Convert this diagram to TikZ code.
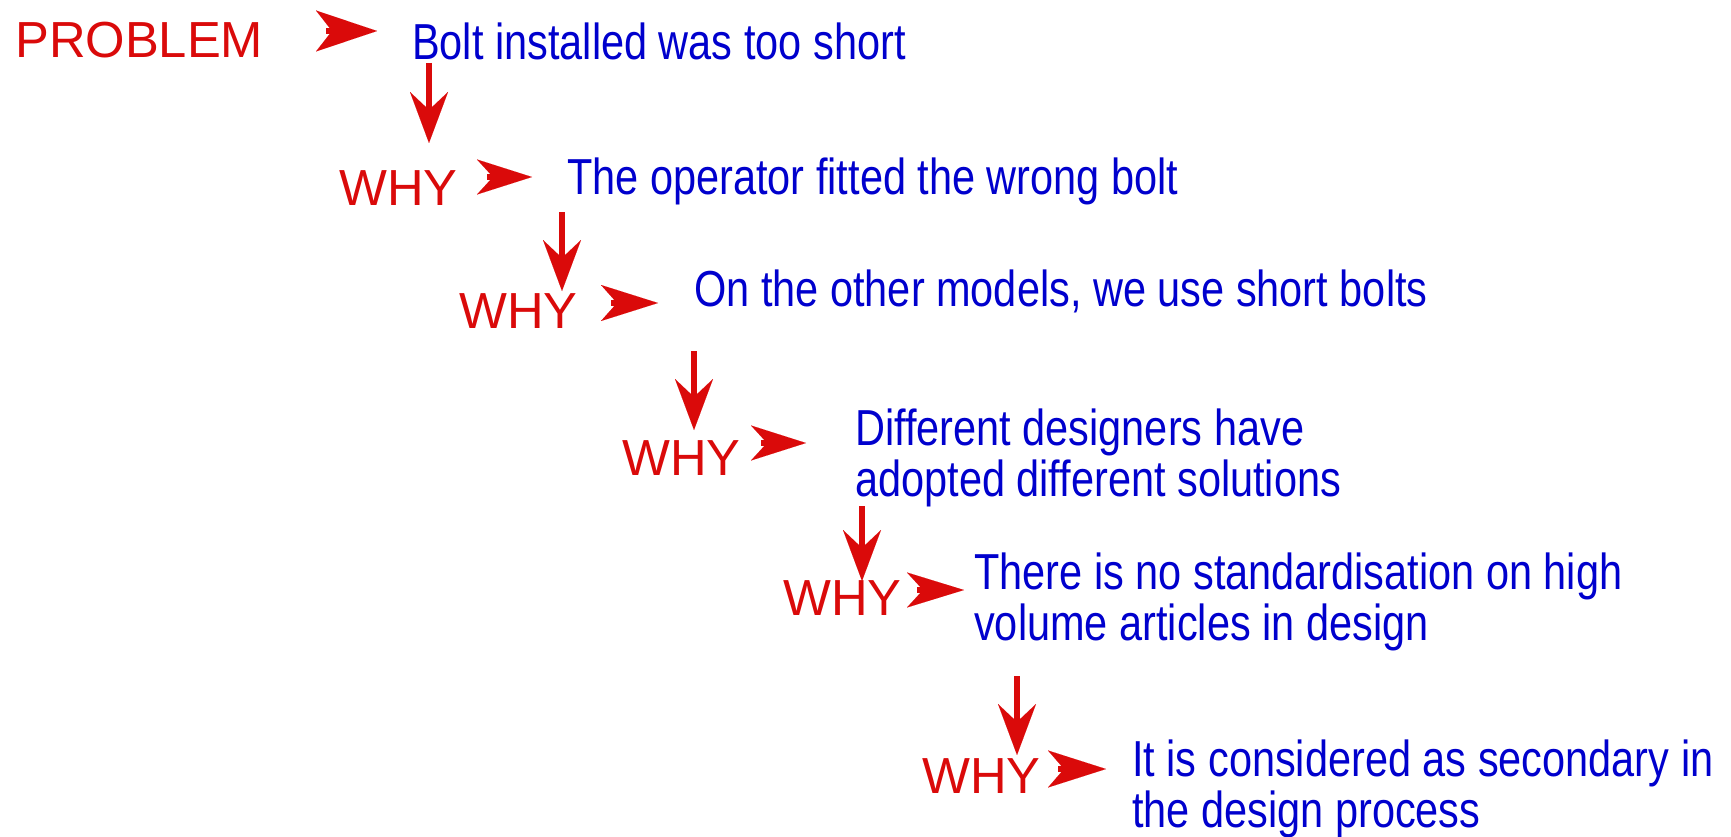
\documentclass[tikz,border=0pt]{standalone}
\usepackage{fontspec}
\setmainfont{Liberation Sans}
\newfontfamily\narrowfont{Liberation Sans}[FakeStretch=0.82]
\usetikzlibrary{arrows.meta}
\definecolor{myred}{RGB}{218,10,10}
\definecolor{myblue}{RGB}{0,0,205}
\begin{document}
\begin{tikzpicture}[x=1pt,y=-1pt,
  lbl/.style={anchor=base west, inner sep=0pt, text=myred,
    font=\fontsize{50.7}{51}\selectfont},
  txt/.style={anchor=base west, inner sep=0pt, text=myblue,
    font=\narrowfont\fontsize{50.6}{51}\selectfont},
  rarrow/.style 2 args={draw=myred, line width=6pt,
    -{Stealth[length=#1pt, width=#2pt, inset=16pt, line width=0.01pt]}},
  darrow/.style={draw=myred, line width=6pt,
    -{Stealth[length=51pt, width=38pt, inset=18pt, line width=0.01pt]}}]
\useasboundingbox (0,0) rectangle (1731,837);

% labels
\node[lbl] (prob) at (15,58) {PROBLEM};
\node[lbl] (why1) at (339,205) {WHY};
\node[lbl] (why2) at (459,328) {WHY};
\node[lbl] (why3) at (622,475) {WHY};
\node[lbl] (why4) at (783,615) {WHY};
\node[lbl] (why5) at (922,793) {WHY};

% texts
\node[txt] (t1) at (412,60) {Bolt installed was too short};
\node[txt] (t2) at (567,195) {The operator fitted the wrong bolt};
\node[txt] (t3) at (694,306) {On the other models, we use short bolts};
\node[txt] (t4) at (855,445) {\begin{tabular}[t]{@{}l@{}}Different designers have\\adopted different solutions\end{tabular}};
\node[txt] (t5) at (974,589) {\begin{tabular}[t]{@{}l@{}}There is no standardisation on high\\volume articles in design\end{tabular}};
\node[txt] (t6) at (1132,776) {\begin{tabular}[t]{@{}l@{}}It is considered as secondary in\\the design process\end{tabular}};

% right arrows (label -> statement)
\coordinate (ra1) at (326,31);  \coordinate (rb1) at (377,31);
\coordinate (ra2) at (487,177); \coordinate (rb2) at (532,177);
\coordinate (ra3) at (611,303); \coordinate (rb3) at (658,303);
\coordinate (ra4) at (761,443); \coordinate (rb4) at (806,443);
\coordinate (ra5) at (917,590); \coordinate (rb5) at (964,590);
\coordinate (ra6) at (1058,769); \coordinate (rb6) at (1106,769);
\draw[rarrow={61}{41}] (ra1) -- (rb1);
\draw[rarrow={55}{35}] (ra2) -- (rb2);
\draw[rarrow={57}{36}] (ra3) -- (rb3);
\draw[rarrow={55}{35}] (ra4) -- (rb4);
\draw[rarrow={57}{35}] (ra5) -- (rb5);
\draw[rarrow={58}{37}] (ra6) -- (rb6);

% down arrows (statement -> next WHY)
\coordinate (da1) at (429,63);  \coordinate (db1) at (429,143);
\coordinate (da2) at (562,212); \coordinate (db2) at (562,291);
\coordinate (da3) at (694,351); \coordinate (db3) at (694,430);
\coordinate (da4) at (862,506); \coordinate (db4) at (862,581);
\coordinate (da5) at (1017,676); \coordinate (db5) at (1017,755);
\draw[darrow] (da1) -- (db1);
\draw[darrow] (da2) -- (db2);
\draw[darrow] (da3) -- (db3);
\draw[darrow] (da4) -- (db4);
\draw[darrow] (da5) -- (db5);
\end{tikzpicture}
\end{document}
